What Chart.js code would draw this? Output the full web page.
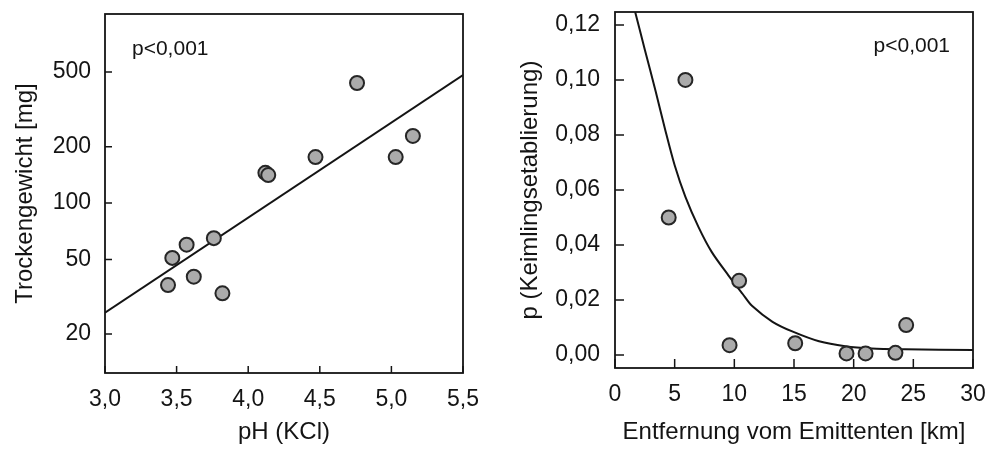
<!DOCTYPE html>
<html>
<head>
<meta charset="utf-8">
<script src="https://cdn.jsdelivr.net/npm/chart.js@4/dist/chart.umd.min.js"></script>
<style>
  html, body { margin: 0; padding: 0; background: #fff; }
  .panel { position: absolute; top: 0; width: 496px; height: 457px; }
  #left { left: 0; }
  #right { left: 496px; }
</style>
</head>
<body>
<div class="panel" id="left"><canvas id="phChart" width="496" height="457"></canvas></div>
<div class="panel" id="right"><canvas id="distChart" width="496" height="457"></canvas></div>
<script>
// ---- left panel: dry weight vs. soil pH (log y) ----
const phValues   = [3.44, 3.47, 3.57, 3.62, 3.76, 3.82, 4.12, 4.14, 4.47, 4.76, 5.03, 5.15];
const dryWeight  = [36.5, 51, 60, 40.5, 65, 33, 145, 141, 176, 437, 176, 228];
const phFitX     = [3.0, 5.5];
const phFitY     = [26, 482];
const phTicks    = [3.0, 3.5, 4.0, 4.5, 5.0, 5.5];
const weightTicks = [20, 50, 100, 200, 500];

// ---- right panel: seedling establishment vs. distance ----
const distKm     = [4.5, 5.9, 9.6, 10.4, 15.1, 19.4, 21.0, 23.5, 24.4];
const pEstab     = [0.050, 0.100, 0.0036, 0.027, 0.0043, 0.0006, 0.0006, 0.0008, 0.0109];
const curveX     = [1.69, 2.5, 3.4, 4.2, 5.0, 5.9, 7.0, 8.1, 9.5, 10.7, 11.5, 13.2, 14.9, 17.1, 19.3, 21.5, 24.3, 30];
const curveY     = [0.1247, 0.111, 0.096, 0.082, 0.069, 0.0575, 0.0465, 0.0375, 0.029, 0.0222, 0.0178, 0.0121, 0.0085, 0.005, 0.0032, 0.0024, 0.0021, 0.0018];
const distTicks  = [0, 5, 10, 15, 20, 25, 30];
const pTicks     = [0, 0.02, 0.04, 0.06, 0.08, 0.10, 0.12];

const INK = '#141414';
Chart.defaults.font.family = "'Liberation Sans', Arial, sans-serif";
Chart.defaults.color = INK;

const toPoints = (xs, ys) => xs.map((x, i) => ({ x, y: ys[i] }));
const comma = (d) => (v) => Number(v).toFixed(d).replace('.', ',');

// frame, inward tick marks and the p-value note
const frameAndTicks = {
  id: 'frameAndTicks',
  afterDraw(chart, args, opts) {
    const { ctx, chartArea: a, scales } = chart;
    ctx.save();
    ctx.strokeStyle = INK;
    ctx.lineWidth = 1.8;
    ctx.strokeRect(a.left, a.top, a.right - a.left, a.bottom - a.top);
    ctx.lineWidth = 1.5;
    ctx.beginPath();
    scales.x.ticks.forEach(t => {
      const px = scales.x.getPixelForValue(t.value);
      ctx.moveTo(px, a.bottom);
      ctx.lineTo(px, a.bottom - opts.len);
    });
    scales.y.ticks.forEach(t => {
      const py = scales.y.getPixelForValue(t.value);
      ctx.moveTo(a.left, py);
      ctx.lineTo(a.left + opts.len, py);
    });
    ctx.stroke();
    ctx.fillStyle = INK;
    ctx.font = "21px 'Liberation Sans', Arial, sans-serif";
    ctx.textBaseline = 'middle';
    ctx.textAlign = opts.noteAlign;
    const nx = opts.noteAlign === 'left' ? a.left + opts.noteDx : a.right - opts.noteDx;
    ctx.fillText(opts.note, nx, a.top + opts.noteDy);
    ctx.restore();
  }
};

const tickFont = { size: 23 };
const titleFont = { size: 24 };
const pointStyle = {
  pointRadius: 7,
  pointBackgroundColor: '#ababab',
  pointBorderColor: '#262626',
  pointBorderWidth: 2,
  showLine: false
};

function makeChart(id, cfg) {
  return new Chart(document.getElementById(id), {
    type: 'scatter',
    data: { datasets: cfg.datasets },
    options: {
      responsive: false,
      animation: false,
      layout: { padding: cfg.padding },
      plugins: {
        legend: { display: false },
        tooltip: { enabled: false },
        frameAndTicks: cfg.note
      },
      scales: {
        x: {
          type: 'linear',
          min: cfg.xMin, max: cfg.xMax,
          grid: { display: false, drawTicks: false },
          border: { display: false },
          afterBuildTicks: s => { s.ticks = cfg.xTicks.map(v => ({ value: v })); },
          afterFit: s => { s.height = cfg.xHeight; s.paddingLeft = 0; s.paddingRight = 0; },
          ticks: { font: tickFont, padding: 13, maxRotation: 0, autoSkip: false, callback: cfg.xFmt },
          title: { display: true, text: cfg.xTitle, font: titleFont, padding: { top: 0, bottom: 10 } }
        },
        y: {
          type: cfg.yType,
          min: cfg.yMin, max: cfg.yMax,
          grid: { display: false, drawTicks: false },
          border: { display: false },
          afterBuildTicks: s => { s.ticks = cfg.yTicks.map(v => ({ value: v })); },
          afterFit: s => { s.width = cfg.yWidth; s.paddingTop = 0; s.paddingBottom = 0; },
          ticks: { font: tickFont, padding: cfg.yPad, autoSkip: false, callback: cfg.yFmt },
          title: { display: true, text: cfg.yTitle, font: titleFont, padding: { top: cfg.yTitlePad, bottom: 0 } }
        }
      }
    },
    plugins: [frameAndTicks]
  });
}

makeChart('phChart', {
  datasets: [
    { data: toPoints(phValues, dryWeight), ...pointStyle },
    { data: toPoints(phFitX, phFitY), showLine: true, borderColor: INK, borderWidth: 2, pointRadius: 0 }
  ],
  padding: { top: 14, right: 33, bottom: 0, left: 0 },
  xMin: 3.0, xMax: 5.5, xTicks: phTicks, xFmt: comma(1), xHeight: 84,
  xTitle: 'pH (KCl)',
  yType: 'logarithmic', yMin: 12.4, yMax: 1020, yTicks: weightTicks, yFmt: v => String(v),
  yWidth: 105, yPad: 14, yTitlePad: 11,
  yTitle: 'Trockengewicht [mg]',
  note: { len: 7, note: 'p<0,001', noteAlign: 'left', noteDx: 27, noteDy: 35 }
});

makeChart('distChart', {
  datasets: [
    { data: toPoints(distKm, pEstab), ...pointStyle },
    { data: toPoints(curveX, curveY), showLine: true, borderColor: INK, borderWidth: 2, pointRadius: 0, tension: 0.3 }
  ],
  padding: { top: 12, right: 19, bottom: 0, left: 0 },
  xMin: 0, xMax: 30, xTicks: distTicks, xFmt: v => String(v), xHeight: 89,
  xTitle: 'Entfernung vom Emittenten [km]',
  yType: 'linear', yMin: -0.0047, yMax: 0.1247, yTicks: pTicks, yFmt: comma(2),
  yWidth: 119, yPad: 15, yTitlePad: 20,
  yTitle: 'p (Keimlingsetablierung)',
  note: { len: 9, note: 'p<0,001', noteAlign: 'right', noteDx: 23, noteDy: 34 }
});
</script>
</body>
</html>
